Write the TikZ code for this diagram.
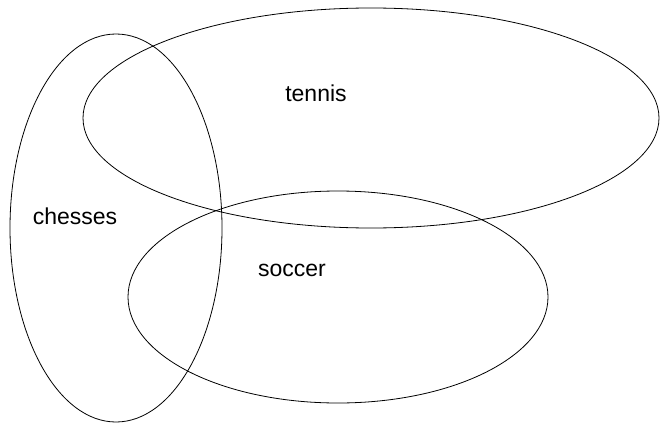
\documentclass[tikz,border=0pt]{standalone}
\usepackage{fontspec}
\setmainfont{Liberation Sans}
\begin{document}
\begin{tikzpicture}[x=1pt,y=-1pt,font=\fontsize{23}{27}\selectfont]
\useasboundingbox (0,0) rectangle (660,425);
\draw[line width=0.8pt] (116,228) ellipse [x radius=106, y radius=194];
\draw[line width=0.8pt] (371,118) ellipse [x radius=288, y radius=110];
\draw[line width=0.8pt] (338,297) ellipse [x radius=210, y radius=106];
\node (tennis) at (316,93) {tennis};
\node (chesses) at (75,216) {chesses};
\node (soccer) at (292,270) {soccer};
\end{tikzpicture}
\end{document}
